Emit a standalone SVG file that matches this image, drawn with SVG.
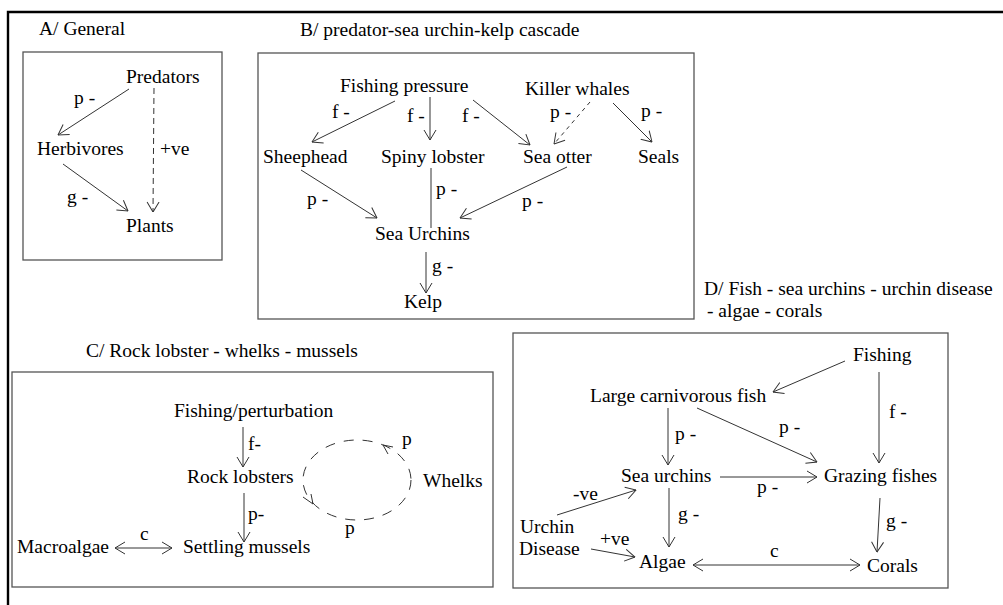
<svg xmlns="http://www.w3.org/2000/svg" width="1003" height="605" viewBox="0 0 1003 605" font-family="'Liberation Serif', 'Times New Roman', serif">
  <style>
    text { font-family: 'Liberation Serif', 'Times New Roman', serif; font-size: 19.5px; fill: #000; }
    .panel { fill: none; stroke: #555; stroke-width: 1.3; }
    .frame { fill: none; stroke: #000; stroke-width: 2.4; }
    .edge { fill: none; stroke: #333; stroke-width: 1; }
    .dash { stroke-dasharray: 6 4; }
    .dash-s { stroke-dasharray: 4 4; }
    .loop { fill: none; stroke: #333; stroke-width: 1; stroke-dasharray: 10 9; }
  </style>
  <defs>
    <!-- open V arrowhead shared by all connectors -->
    <marker id="arrow" viewBox="0 0 11 14" refX="10.5" refY="7" markerWidth="11" markerHeight="14" markerUnits="userSpaceOnUse" orient="auto-start-reverse">
      <path d="M0.5,1 L10.5,7 L0.5,13" fill="none" stroke="#333" stroke-width="1"/>
    </marker>
  </defs>

  <rect width="1003" height="605" fill="#fff"/>

  <!-- outer frame: top and left rules only -->
  <path class="frame" d="M1003,12 H8 V605"/>

  <!-- panel frames -->
  <rect class="panel" x="23" y="52" width="199" height="208"/>
  <rect class="panel" x="258" y="53" width="436" height="266"/>
  <rect class="panel" x="12" y="372" width="481" height="215"/>
  <rect class="panel" x="513" y="333" width="435" height="255"/>

  <!-- panel titles -->
  <g id="titles">
    <text x="39" y="35">A/ General</text>
    <text x="300" y="36">B/ predator-sea urchin-kelp cascade</text>
    <text x="86" y="357">C/ Rock lobster - whelks - mussels</text>
    <text x="704" y="295">D/ Fish - sea urchins - urchin disease</text>
    <text x="707" y="317">- algae - corals</text>
  </g>

  <!-- A: general cascade -->
  <g id="a-predators"><text x="126" y="83">Predators</text></g>
  <g id="a-herbivores"><text x="37" y="155">Herbivores</text></g>
  <g id="a-plants"><text x="126" y="232">Plants</text></g>

  <!-- B: predator - sea urchin - kelp -->
  <g id="b-fishing"><text x="340" y="92">Fishing pressure</text></g>
  <g id="b-killer-whales"><text x="525" y="95">Killer whales</text></g>
  <g id="b-sheephead"><text x="263" y="163">Sheephead</text></g>
  <g id="b-spiny-lobster"><text x="381" y="163">Spiny lobster</text></g>
  <g id="b-sea-otter"><text x="523" y="163">Sea otter</text></g>
  <g id="b-seals"><text x="638" y="163">Seals</text></g>
  <g id="b-sea-urchins"><text x="375" y="240">Sea Urchins</text></g>
  <g id="b-kelp"><text x="404" y="308">Kelp</text></g>

  <!-- C: rock lobster - whelks - mussels -->
  <g id="c-fishing"><text x="174" y="417">Fishing/perturbation</text></g>
  <g id="c-rock-lobsters"><text x="187" y="483">Rock lobsters</text></g>
  <g id="c-whelks"><text x="423" y="487">Whelks</text></g>
  <g id="c-macroalgae"><text x="17" y="553">Macroalgae</text></g>
  <g id="c-mussels"><text x="183" y="553">Settling mussels</text></g>

  <!-- D: fish - urchins - disease - algae - corals -->
  <g id="d-fishing"><text x="853" y="361">Fishing</text></g>
  <g id="d-carnivores"><text x="590" y="402">Large carnivorous fish</text></g>
  <g id="d-sea-urchins"><text x="621" y="482">Sea urchins</text></g>
  <g id="d-grazers"><text x="824" y="482">Grazing fishes</text></g>
  <g id="d-disease"><text x="520" y="533">Urchin</text><text x="519" y="555">Disease</text></g>
  <g id="d-algae"><text x="639" y="568">Algae</text></g>
  <g id="d-corals"><text x="867" y="572">Corals</text></g>

  <!-- connectors -->
  <g id="connectors">
    <!-- A -->
    <line class="edge" x1="129" y1="89" x2="58" y2="135" marker-end="url(#arrow)"/>
    <line class="edge" x1="63" y1="164" x2="128" y2="211" marker-end="url(#arrow)"/>
    <line class="edge dash" x1="154" y1="88" x2="153" y2="212" marker-end="url(#arrow)"/>
    <!-- B -->
    <line class="edge" x1="395" y1="101" x2="312" y2="142" marker-end="url(#arrow)"/>
    <line class="edge" x1="430" y1="97" x2="430" y2="140" marker-end="url(#arrow)"/>
    <line class="edge" x1="473" y1="100" x2="530" y2="145" marker-end="url(#arrow)"/>
    <line class="edge dash-s" x1="590" y1="102" x2="554" y2="144" marker-end="url(#arrow)"/>
    <line class="edge" x1="613" y1="103" x2="652" y2="142" marker-end="url(#arrow)"/>
    <line class="edge" x1="301" y1="170" x2="377" y2="218" marker-end="url(#arrow)"/>
    <line class="edge" x1="431" y1="168" x2="431" y2="228"/>
    <line class="edge" x1="567" y1="167" x2="460" y2="218" marker-end="url(#arrow)"/>
    <line class="edge" x1="426" y1="252" x2="426" y2="293" marker-end="url(#arrow)"/>
    <!-- C -->
    <line class="edge" x1="243" y1="427" x2="243" y2="467" marker-end="url(#arrow)"/>
    <line class="edge" x1="244" y1="493" x2="244" y2="542" marker-end="url(#arrow)"/>
    <line class="edge" x1="115" y1="548" x2="172" y2="548" marker-start="url(#arrow)" marker-end="url(#arrow)"/>
    <ellipse class="loop" cx="357" cy="480" rx="54" ry="40"/>
    <path class="edge" d="M393,447 L383,445 L388,454"/>
    <path class="edge" d="M303,497 L313,504 L311,494"/>
    <!-- D -->
    <line class="edge" x1="845" y1="361" x2="773" y2="392" marker-end="url(#arrow)"/>
    <line class="edge" x1="879" y1="372" x2="879" y2="463" marker-end="url(#arrow)"/>
    <line class="edge" x1="668" y1="408" x2="668" y2="465" marker-end="url(#arrow)"/>
    <line class="edge" x1="697" y1="408" x2="817" y2="462" marker-end="url(#arrow)"/>
    <line class="edge" x1="720" y1="477" x2="817" y2="477" marker-end="url(#arrow)"/>
    <line class="edge" x1="557" y1="515" x2="636" y2="490" marker-end="url(#arrow)"/>
    <line class="edge" x1="591" y1="549" x2="635" y2="557" marker-end="url(#arrow)"/>
    <line class="edge" x1="669" y1="488" x2="669" y2="547" marker-end="url(#arrow)"/>
    <line class="edge" x1="693" y1="565" x2="860" y2="565" marker-start="url(#arrow)" marker-end="url(#arrow)"/>
    <line class="edge" x1="880" y1="498" x2="877" y2="552" marker-end="url(#arrow)"/>
  </g>

  <!-- interaction labels -->
  <g id="edge-labels">
    <text x="74" y="104">p -</text>
    <text x="160" y="155">+ve</text>
    <text x="67" y="203">g -</text>

    <text x="332" y="118">f -</text>
    <text x="407" y="122">f -</text>
    <text x="462" y="122">f -</text>
    <text x="550" y="118">p -</text>
    <text x="641" y="117">p -</text>
    <text x="436" y="195">p -</text>
    <text x="307" y="205">p -</text>
    <text x="522" y="207">p -</text>
    <text x="432" y="272">g -</text>

    <text x="248" y="450">f-</text>
    <text x="248" y="520">p-</text>
    <text x="140" y="540">c</text>
    <text x="402" y="445">p</text>
    <text x="345" y="534">p</text>

    <text x="889" y="418">f -</text>
    <text x="675" y="440">p -</text>
    <text x="779" y="433">p -</text>
    <text x="757" y="493">p -</text>
    <text x="573" y="500">-ve</text>
    <text x="600" y="545">+ve</text>
    <text x="678" y="520">g -</text>
    <text x="770" y="557">c</text>
    <text x="886" y="527">g -</text>
  </g>
</svg>
